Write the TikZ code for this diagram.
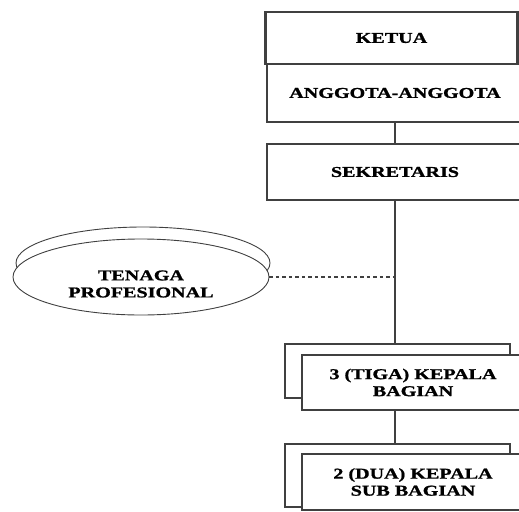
\documentclass[tikz,border=0pt]{standalone}
\usepackage{fontspec}
\newfontfamily\orgfont[FakeStretch=1.34, FakeBold=1.2]{Liberation Serif}
\usetikzlibrary{shapes.geometric, positioning}

\definecolor{linegray}{HTML}{404040}

\tikzset{
    orgtext/.style={align=center, font=\orgfont\bfseries\fontsize{15}{17}\selectfont},
    orgbox/.style={draw=linegray, line width=1.5pt, fill=white, inner sep=0pt, orgtext},
    backbox/.style={draw=linegray, line width=1.5pt, fill=white, inner sep=0pt},
    oval/.style={draw=linegray, line width=0.9pt, ellipse, inner sep=0pt},
    link/.style={draw=linegray, line width=1.5pt},
}

\begin{document}
\begin{tikzpicture}[x=1pt, y=-1pt]
    \useasboundingbox (0, 0) rectangle (519, 511);
    \clip (0, 0) rectangle (519, 511);

    % pimpinan
    \node[orgbox, line width=2.8pt, minimum width=252pt, minimum height=52pt] (ketua) at (391.5, 38) {KETUA};
    \node[orgbox, minimum width=256pt, minimum height=58pt] (anggota) at (395, 93) {ANGGOTA-ANGGOTA};
    \node[orgbox, minimum width=256pt, minimum height=56pt] (sekretaris) at (395, 172) {SEKRETARIS};

    % kepala bagian (tumpuk)
    \node[backbox, minimum width=225pt, minimum height=54pt] (bagianbk) at (397.5, 371) {};
    \node[orgbox, minimum width=222pt, minimum height=55pt] (bagian) at (413, 382.5) {3 (TIGA) KEPALA\\BAGIAN};

    % kepala sub bagian (tumpuk)
    \node[backbox, minimum width=225pt, minimum height=63pt] (subbk) at (397.5, 475.5) {};
    \node[orgbox, minimum width=222pt, minimum height=56pt] (sub) at (413, 482) {2 (DUA) KEPALA\\SUB BAGIAN};

    % tenaga profesional
    \node[oval, minimum width=254pt, minimum height=72pt] (tpbk) at (143, 263) {};
    \node[oval, fill=white, minimum width=256pt, minimum height=76pt] (tp) at (141, 277) {};
    \node[orgtext] (tptext) at (141, 284) {TENAGA\\PROFESIONAL};

    % garis
    \draw[link] (anggota.south) -- (sekretaris.north);
    \draw[link] (sekretaris.south) -- (sekretaris.south |- bagianbk.north);
    \draw[link] (sekretaris.south |- bagian.south) -- (sekretaris.south |- subbk.north);
    \coordinate (tpjoin) at (tp.east -| sekretaris.south);
    \draw[linegray, line width=1.2pt, dash pattern=on 3.5pt off 3pt] (tp.east) -- (tpjoin);

\end{tikzpicture}
\end{document}
